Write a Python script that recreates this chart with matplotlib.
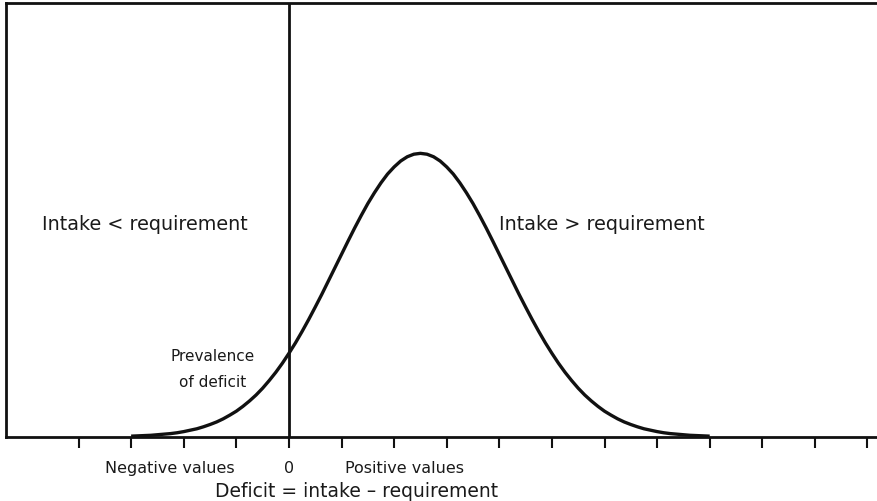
import matplotlib
matplotlib.use("Agg")
import matplotlib.pyplot as plt
from matplotlib.transforms import blended_transform_factory

# deficit axis (tick units) and relative height of the distribution
deficit = [-3.0, -2.875, -2.75, -2.625, -2.5, -2.375, -2.25, -2.125, -2.0, -1.875, -1.75,
           -1.625, -1.5, -1.375, -1.25, -1.125, -1.0, -0.875, -0.75, -0.625, -0.5, -0.375,
           -0.25, -0.125, 0.0, 0.125, 0.25, 0.375, 0.5, 0.625, 0.75, 0.875, 1.0, 1.125, 1.25,
           1.375, 1.5, 1.625, 1.75, 1.875, 2.0, 2.125, 2.25, 2.375, 2.5, 2.625, 2.75, 2.875,
           3.0, 3.125, 3.25, 3.375, 3.5, 3.625, 3.75, 3.875, 4.0, 4.125, 4.25, 4.375, 4.5,
           4.625, 4.75, 4.875, 5.0, 5.125, 5.25, 5.375, 5.5, 5.625, 5.75, 5.875, 6.0, 6.125,
           6.25, 6.375, 6.5, 6.625, 6.75, 6.875, 7.0, 7.125, 7.25, 7.375, 7.5, 7.625, 7.75,
           7.875, 8.0]
density = [0.003, 0.004, 0.005, 0.006, 0.008, 0.010, 0.012, 0.015, 0.019, 0.024, 0.029,
           0.036, 0.044, 0.053, 0.064, 0.077, 0.091, 0.108, 0.127, 0.148, 0.172, 0.199,
           0.228, 0.260, 0.295, 0.332, 0.372, 0.414, 0.458, 0.503, 0.550, 0.597, 0.644, 0.691,
           0.737, 0.781, 0.823, 0.861, 0.896, 0.927, 0.952, 0.973, 0.988, 0.997, 1.000, 0.997,
           0.988, 0.973, 0.952, 0.927, 0.896, 0.861, 0.823, 0.781, 0.737, 0.691, 0.644, 0.597,
           0.550, 0.503, 0.458, 0.414, 0.372, 0.332, 0.295, 0.260, 0.228, 0.199, 0.172, 0.148,
           0.127, 0.108, 0.091, 0.077, 0.064, 0.053, 0.044, 0.036, 0.029, 0.024, 0.019, 0.015,
           0.012, 0.010, 0.008, 0.006, 0.005, 0.004, 0.003]
tick_positions = list(range(-4, 12))

fig = plt.figure(figsize=(8.78, 5.02), dpi=100)
ax = fig.add_axes([0.0068, 0.1275, 0.9932, 0.8645])

ax.plot(deficit, density, color="#111111", lw=2.4, solid_capstyle="butt")
ax.axvline(0, color="#111111", lw=2.0)

ax.set_xlim(-5.38, 11.2)
ax.set_ylim(0, 1.53)
ax.set_yticks([])
ax.set_xticks(tick_positions)
ax.set_xticklabels([])
ax.tick_params(axis="x", direction="out", length=8, width=1.5, color="#111111")
for side in ["left", "top", "bottom"]:
    ax.spines[side].set_linewidth(2.0)
    ax.spines[side].set_color("#111111")
ax.spines["right"].set_visible(False)

# x in data units, y in figure fraction (from pixel rows of the reference)
tr = blended_transform_factory(ax.transData, fig.transFigure)
def fy(py):
    return 1 - py / 502

font = "DejaVu Sans"
col = "#1a1a1a"
ax.text(-4.70, fy(230), "Intake < requirement", fontsize=13.8, family=font, color=col,
        va="baseline", ha="left", transform=tr)
ax.text(3.99, fy(230), "Intake > requirement", fontsize=13.8, family=font, color=col,
        va="baseline", ha="left", transform=tr)
ax.text(-1.46, fy(361), "Prevalence", fontsize=11, family=font, color=col,
        va="baseline", ha="center", transform=tr)
ax.text(-1.46, fy(387), "of deficit", fontsize=11, family=font, color=col,
        va="baseline", ha="center", transform=tr)

ax.text(-2.27, fy(473), "Negative values", fontsize=11.5, family=font, color=col,
        va="baseline", ha="center", transform=tr, clip_on=False)
ax.text(0, fy(473), "0", fontsize=11.5, family=font, color=col,
        va="baseline", ha="center", transform=tr, clip_on=False)
ax.text(2.2, fy(473), "Positive values", fontsize=11.5, family=font, color=col,
        va="baseline", ha="center", transform=tr, clip_on=False)
ax.text(1.29, fy(497), "Deficit = intake \u2013 requirement", fontsize=13.5, family=font,
        color=col, va="baseline", ha="center", transform=tr, clip_on=False)

fig.savefig("out.png", dpi=100)
